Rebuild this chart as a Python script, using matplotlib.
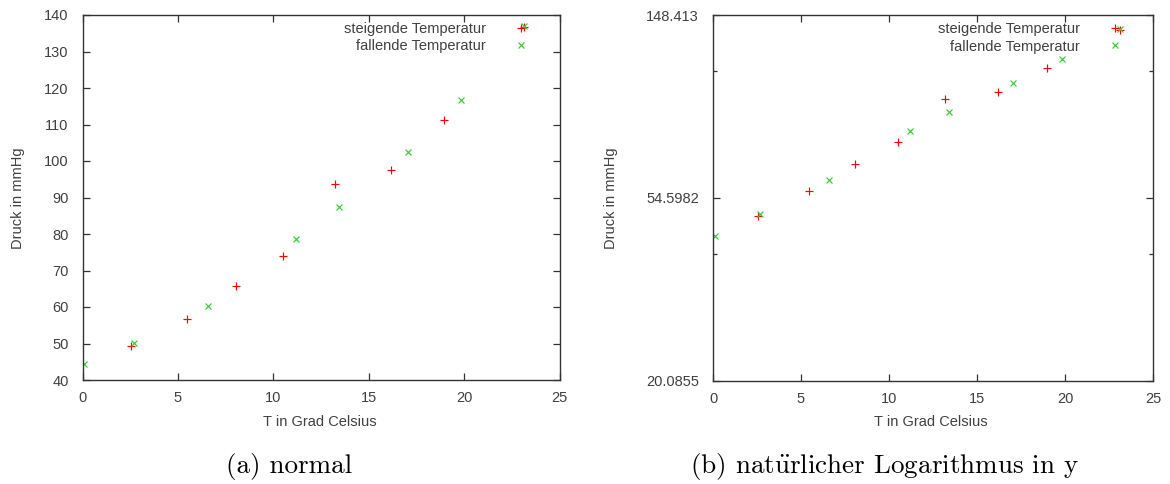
import numpy as np
import matplotlib
matplotlib.use("Agg")
import matplotlib.pyplot as plt
from matplotlib.ticker import FixedLocator, NullFormatter

# ---- data ----
t_steigend = [2.55, 5.48, 8.05, 10.49, 13.21, 16.17, 18.96, 23.12]
p_steigend = [49.4, 56.7, 65.7, 74.0, 93.6, 97.5, 111.3, 136.8]
t_fallend = [0.1, 2.69, 6.6, 11.2, 13.43, 17.06, 19.85, 23.14]
p_fallend = [44.4, 50.1, 60.2, 78.5, 87.3, 102.6, 116.8, 137.1]

label_steigend = "steigende Temperatur"
label_fallend = "fallende Temperatur"
xlabel = "T in Grad Celsius"
ylabel = "Druck in mmHg"
captions = ["(a) normal", "(b) nat$\\ddot{\\rm u}$rlicher Logarithmus in y"]

x_ticks = [0, 5, 10, 15, 20, 25]
y_ticks_lin = [40, 50, 60, 70, 80, 90, 100, 110, 120, 130, 140]
log_exponents = [3, 4, 5]
log_labels = ["20.0855", "54.5982", "148.413"]

RED = "#ff0000"
GREEN = "#33cc33"
AX = "#333333"
TXT = "#404040"
FS = 10.5

plt.rcParams["font.family"] = ["Liberation Sans", "DejaVu Sans"]
plt.rcParams["mathtext.fontset"] = "cm"

fig = plt.figure(figsize=(11.70, 4.84), dpi=100)
W, H = 1170, 484

def make_axes(x0, x1, y0, y1):
    return fig.add_axes([x0 / W, 1 - y1 / H, (x1 - x0) / W, (y1 - y0) / H])

ax1 = make_axes(82.5, 559.5, 15, 380)
ax2 = make_axes(713, 1153, 15, 380.7)

for ax, widthpx in ((ax1, 477.0), (ax2, 440.0)):
    ax.plot(t_steigend, p_steigend, linestyle="none", marker="+", color=RED,
            markersize=6, markeredgewidth=0.85, label=label_steigend)
    ax.plot(t_fallend, p_fallend, linestyle="none", marker="x", color=GREEN,
            markersize=4.8, markeredgewidth=0.85, label=label_fallend)
    ax.set_xlim(0, 25)
    ax.set_xticks(x_ticks)
    for s in ax.spines.values():
        s.set_color(AX)
        s.set_linewidth(1.0)
    ax.tick_params(which="both", direction="in", top=True, right=True,
                   color=AX, labelcolor=TXT, labelsize=FS, width=0.9)
    ax.tick_params(which="major", length=5)
    ax.tick_params(which="minor", length=3)
    ax.tick_params(axis="x", pad=8)
    ax.tick_params(axis="y", pad=10)
    leg = ax.legend(loc="upper right", markerfirst=False, frameon=False,
                    fontsize=FS, handlelength=1.0, handletextpad=1.9,
                    labelspacing=0.22, borderaxespad=0.1,
                    bbox_to_anchor=(0.985 - 17.0 / widthpx, 1.0))
    for t in leg.get_texts():
        t.set_color(TXT)

ax1.set_ylim(40, 140)
ax1.set_yticks(y_ticks_lin)

ax2.set_yscale("log", base=np.e)
ax2.set_ylim(np.exp(log_exponents[0]), np.exp(log_exponents[-1]))
ax2.yaxis.set_major_locator(FixedLocator([np.exp(e) for e in log_exponents]))
ax2.set_yticklabels(log_labels)
ax2.yaxis.set_minor_locator(FixedLocator([2 * np.exp(e) for e in log_exponents[:-1]]))
ax2.yaxis.set_minor_formatter(NullFormatter())

# axis labels
fig.text(320 / W, 1 - 422 / H, xlabel, ha="center", va="center", fontsize=FS, color=TXT)
fig.text(931 / W, 1 - 422 / H, xlabel, ha="center", va="center", fontsize=FS, color=TXT)
fig.text(18 / W, 1 - 198 / H, ylabel, ha="center", va="center", rotation=90, fontsize=FS, color=TXT)
fig.text(611 / W, 1 - 198 / H, ylabel, ha="center", va="center", rotation=90, fontsize=FS, color=TXT)

# captions
fig.text(289 / W, 1 - 466 / H, captions[0], ha="center", va="center", fontsize=19.5,
         family=["cmr10", "DejaVu Serif"])
fig.text(885 / W, 1 - 466 / H, captions[1], ha="center", va="center", fontsize=19.5,
         family=["cmr10", "DejaVu Serif"])

fig.savefig("out.png", dpi=100)
